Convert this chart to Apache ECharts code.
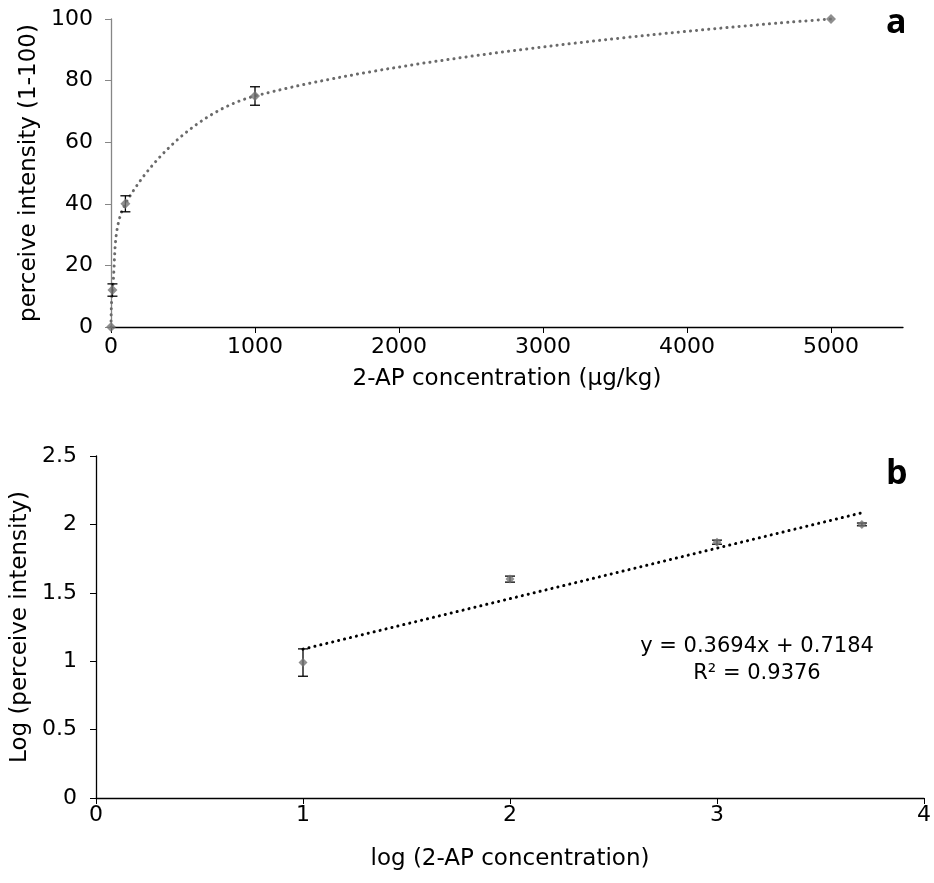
<!DOCTYPE html>
<html>
<head>
    <meta charset="utf-8">
    <script src="https://cdn.jsdelivr.net/npm/echarts@6/dist/echarts.min.js"></script>
    <style>
        html, body { margin: 0; padding: 0; background: #fff; }
        #main { width: 934px; height: 883px; }
    </style>
</head>
<body>
<div id="main"></div>
<script type="text/javascript">

    // chart a: perceived intensity vs concentration
    var concA = [0, 10, 100, 1000, 5000];
    var intensA = [0, 12, 40, 75, 100];
    var errA = [0, 2, 2.6, 3, 0];
    var xTicksA = [0, 1000, 2000, 3000, 4000, 5000];

    // chart b: log-log with linear trend
    var logConcB = [1, 2, 3, 3.7];
    var logIntensB = [0.99, 1.6, 1.87, 2.0];
    var errB = [0.1, 0.022, 0.015, 0.01];
    var trendXB = [1, 3.7];
    var trendYB = [1.088, 2.085];

    var FONT = 'DejaVu Sans';
    var markerColor = '#737373';

    function pairs(xs, ys) {
        var out = [];
        for (var i = 0; i < xs.length; i++) out.push([xs[i], ys[i]]);
        return out;
    }
    function triples(xs, ys, es) {
        var out = [];
        for (var i = 0; i < xs.length; i++) out.push([xs[i], ys[i], es[i]]);
        return out;
    }

    // error bars drawn via the axes' coordinate system
    function errorBar(params, api) {
        var x = api.value(0), y = api.value(1), e = api.value(2);
        if (!e) return;
        var top = api.coord([x, y + e]);
        var bot = api.coord([x, y - e]);
        var w = 5;
        var st = {stroke: '#000', lineWidth: 1.3};
        return {
            type: 'group',
            children: [
                {type: 'line', shape: {x1: top[0], y1: top[1], x2: bot[0], y2: bot[1]}, style: st},
                {type: 'line', shape: {x1: top[0] - w, y1: top[1], x2: top[0] + w, y2: top[1]}, style: st},
                {type: 'line', shape: {x1: bot[0] - w, y1: bot[1], x2: bot[0] + w, y2: bot[1]}, style: st}
            ]
        };
    }

    var labelStyle = {color: '#000', fontFamily: FONT, fontSize: 22};
    var nameStyle = {color: '#000', fontFamily: FONT, fontSize: 23};

    var myChart = echarts.init(document.getElementById('main'));

    var option = {
        animation: false,
        backgroundColor: '#fff',
        grid: [
            {left: 111, top: 19, width: 792, height: 308},
            {left: 96, top: 456, width: 832, height: 342}
        ],
        xAxis: [
            {
                gridIndex: 0, type: 'value', min: 0, max: 5500,
                name: '2-AP concentration (µg/kg)', nameLocation: 'middle', nameGap: 41,
                nameTextStyle: nameStyle,
                axisLine: {show: true, lineStyle: {color: '#000', width: 1.3}},
                axisTick: {show: true, length: 6, customValues: xTicksA, lineStyle: {color: '#000'}},
                axisLabel: Object.assign({margin: 9, customValues: xTicksA, formatter: function (v) { return String(v); }}, labelStyle),
                splitLine: {show: false}
            },
            {
                gridIndex: 1, type: 'value', min: 0, max: 4, interval: 1,
                name: 'log (2-AP concentration)', nameLocation: 'middle', nameGap: 50,
                nameTextStyle: nameStyle,
                axisLine: {show: true, onZero: false, lineStyle: {color: '#000', width: 1.3}},
                axisTick: {show: true, length: 6, lineStyle: {color: '#000'}},
                axisLabel: Object.assign({margin: 6}, labelStyle),
                splitLine: {show: false}
            }
        ],
        yAxis: [
            {
                gridIndex: 0, type: 'value', min: 0, max: 100, interval: 20,
                name: 'perceive intensity (1-100)', nameLocation: 'middle', nameGap: 64,
                nameTextStyle: nameStyle,
                axisLine: {show: true, lineStyle: {color: '#868686', width: 1.3}},
                axisTick: {show: true, length: 6, lineStyle: {color: '#868686'}},
                axisLabel: Object.assign({margin: 18}, labelStyle),
                splitLine: {show: false}
            },
            {
                gridIndex: 1, type: 'value', min: 0, max: 2.5, interval: 0.5,
                name: 'Log (perceive intensity)', nameLocation: 'middle', nameGap: 62,
                nameTextStyle: nameStyle,
                axisLine: {show: true, onZero: false, lineStyle: {color: '#000', width: 1.3}},
                axisTick: {show: true, length: 6, lineStyle: {color: '#000'}},
                axisLabel: Object.assign({margin: 19}, labelStyle),
                splitLine: {show: false}
            }
        ],
        series: [
            {
                type: 'line', xAxisIndex: 0, yAxisIndex: 0,
                data: pairs(concA, intensA), smooth: 0.35, showSymbol: false,
                lineStyle: {color: '#6a6a6a', width: 3, type: [0.1, 6], cap: 'round'},
                z: 2
            },
            {
                type: 'custom', xAxisIndex: 0, yAxisIndex: 0,
                data: triples(concA, intensA, errA), renderItem: errorBar, z: 3
            },
            {
                type: 'scatter', xAxisIndex: 0, yAxisIndex: 0,
                data: pairs(concA, intensA), symbol: 'diamond', symbolSize: 10,
                itemStyle: {color: markerColor}, z: 4
            },
            {
                type: 'line', xAxisIndex: 1, yAxisIndex: 1,
                data: pairs(trendXB, trendYB), showSymbol: false,
                lineStyle: {color: '#000', width: 3, type: [0.1, 6], cap: 'round'},
                z: 2
            },
            {
                type: 'custom', xAxisIndex: 1, yAxisIndex: 1,
                data: triples(logConcB, logIntensB, errB), renderItem: errorBar, z: 3
            },
            {
                type: 'scatter', xAxisIndex: 1, yAxisIndex: 1,
                data: pairs(logConcB, logIntensB), symbol: 'diamond', symbolSize: 9,
                itemStyle: {color: markerColor}, z: 4
            }
        ],
        graphic: [
            {type: 'text', left: 886, top: 6, style: {text: 'a', fontFamily: 'Open Sans', fontWeight: 'bold', fontSize: 34, fill: '#000'}},
            {type: 'text', left: 886, top: 457, style: {text: 'b', fontFamily: 'Open Sans', fontWeight: 'bold', fontSize: 34, fill: '#000'}},
            {type: 'text', x: 757, y: 647, style: {text: 'y = 0.3694x + 0.7184', fontFamily: FONT, fontSize: 21, fill: '#000', align: 'center', verticalAlign: 'middle'}},
            {type: 'text', x: 757, y: 674, style: {text: 'R² = 0.9376', fontFamily: FONT, fontSize: 21, fill: '#000', align: 'center', verticalAlign: 'middle'}}
        ]
    };
    myChart.setOption(option);

</script>
</body>
</html>
